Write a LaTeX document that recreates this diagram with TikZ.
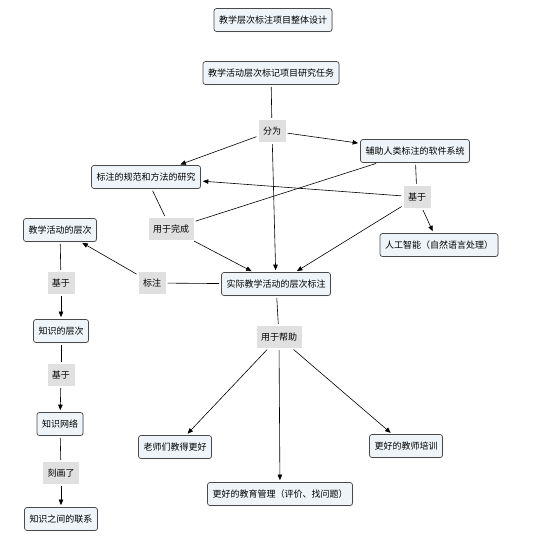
\documentclass[tikz,border=0pt]{standalone}
\usepackage{fontspec}
\setmainfont{Noto Sans CJK SC}
\usepackage{tikz}
\usetikzlibrary{arrows.meta, shadows}

\definecolor{conceptfill}{HTML}{EEF4F8}
\definecolor{conceptdraw}{HTML}{4A4A4A}
\definecolor{linkfill}{HTML}{E0E0E0}

\begin{document}
\begin{tikzpicture}[
    x=1pt, y=-1pt,
    concept/.style={rectangle, rounded corners=2.5pt, draw=conceptdraw, fill=conceptfill,
                    line width=0.7pt, minimum height=23pt, inner xsep=5pt, font=\fontsize{9}{10}\selectfont,
                    drop shadow={shadow xshift=0.6pt, shadow yshift=-0.6pt, opacity=0.35}},
    link/.style={rectangle, fill=linkfill, minimum height=22pt, inner xsep=4.5pt,
                 font=\fontsize{9}{10}\selectfont},
    line/.style={line width=0.6pt, shorten <=2pt, shorten >=2pt},
    arrow/.style={line, -{Triangle[length=5.5pt, width=4.5pt]}}
]

    \useasboundingbox (0, 0) rectangle (550, 555);

    % Title
    \node[concept] (title) at (273, 20) {教学层次标注项目整体设计};

    % Task and its parts
    \node[concept] (task) at (271, 73) {教学活动层次标记项目研究任务};
    \node[link] (fenwei) at (272, 131) {分为};
    \node[concept] (software) at (415, 151) {辅助人类标注的软件系统};
    \node[concept] (norms) at (146, 177) {标注的规范和方法的研究};
    \node[link] (jiyuR) at (417, 197) {基于};
    \node[link] (wancheng) at (171, 229) {用于完成};
    \node[concept] (ai) at (439, 245) {人工智能（自然语言处理）};

    % Actual annotation
    \node[concept] (annot) at (276, 284) {实际教学活动的层次标注};
    \node[link] (biaozhu) at (152, 283) {标注};
    \node[link] (bangzhu) at (279, 337) {用于帮助};
    \node[concept] (teach) at (175, 447) {老师们教得更好};
    \node[concept] (manage) at (280, 494) {更好的教育管理（评价、找问题）};
    \node[concept] (train) at (406, 446) {更好的教师培训};

    % Left chain
    \node[concept] (levels) at (60, 230) {教学活动的层次};
    \node[link] (jiyu1) at (61, 283) {基于};
    \node[concept] (klevels) at (61, 331) {知识的层次};
    \node[link] (jiyu2) at (61, 375) {基于};
    \node[concept] (knet) at (60, 424) {知识网络};
    \node[link] (kehua) at (61, 473) {刻画了};
    \node[concept] (klinks) at (61, 519) {知识之间的联系};

    % Connectors - task
    \draw[line] (task) -- (fenwei);
    \draw[arrow] (fenwei) -- (norms);
    \draw[arrow] (fenwei) -- (software);
    \draw[arrow] (fenwei) -- (annot);

    % Connectors - software
    \draw[line] (software) -- (jiyuR);
    \draw[arrow] (jiyuR) -- (norms);
    \draw[arrow] (jiyuR) -- (ai);
    \draw[arrow] (jiyuR) -- (annot);

    % Connectors - completion
    \draw[line] (norms) -- (wancheng);
    \draw[line] (software) -- (wancheng);
    \draw[arrow] (wancheng) -- (annot);

    % Connectors - annotation
    \draw[line] (annot) -- (biaozhu);
    \draw[arrow] (biaozhu) -- (levels);
    \draw[line] (annot) -- (bangzhu);
    \draw[arrow] (bangzhu) -- (teach);
    \draw[arrow] (bangzhu) -- (manage);
    \draw[arrow] (bangzhu) -- (train);

    % Connectors - left chain
    \draw[line] (levels) -- (jiyu1);
    \draw[arrow] (jiyu1) -- (klevels);
    \draw[line] (klevels) -- (jiyu2);
    \draw[arrow] (jiyu2) -- (knet);
    \draw[line] (knet) -- (kehua);
    \draw[arrow] (kehua) -- (klinks);

\end{tikzpicture}
\end{document}
